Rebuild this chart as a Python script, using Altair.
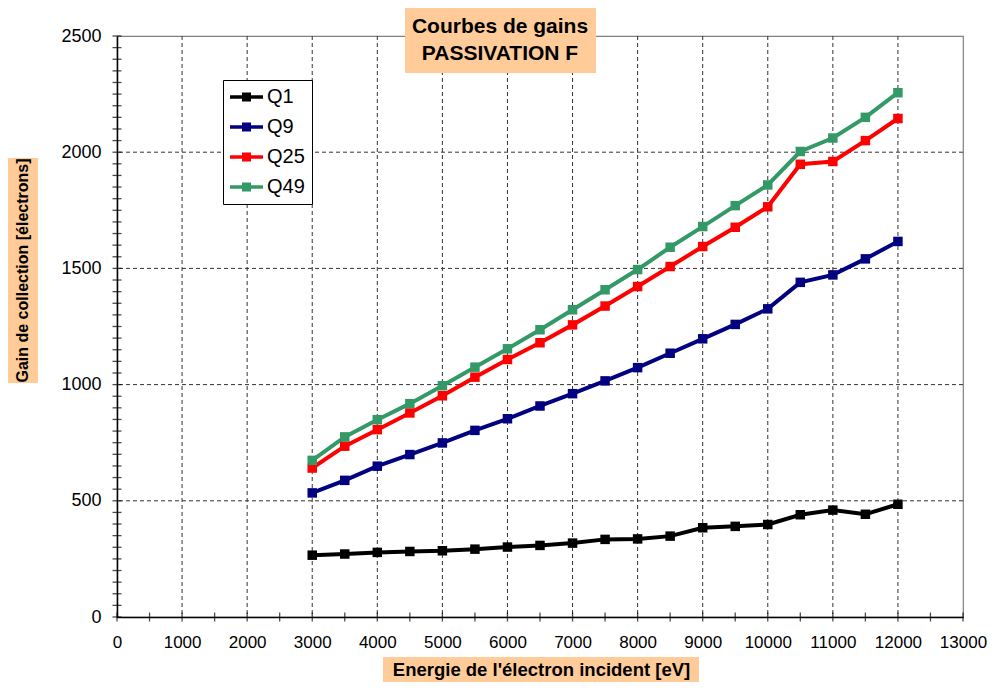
import altair as alt
import pandas as pd

# ---- data ----
ENERGY = [3000, 3500, 4000, 4500, 5000, 5500, 6000, 6500, 7000, 7500,
          8000, 8500, 9000, 9500, 10000, 10500, 11000, 11500, 12000]
Q1 = [266, 271, 278, 282, 285, 292, 301, 308, 318, 334,
      336, 348, 384, 390, 398, 440, 460, 442, 485]
Q9 = [534, 588, 649, 699, 749, 803, 853, 908, 961, 1016,
      1073, 1135, 1197, 1259, 1326, 1440, 1472, 1541, 1616]
Q25 = [641, 735, 806, 878, 952, 1032, 1108, 1180, 1257, 1338,
       1422, 1508, 1594, 1677, 1765, 1948, 1960, 2050, 2145]
Q49 = [674, 775, 849, 918, 995, 1075, 1154, 1236, 1322, 1408,
       1495, 1591, 1680, 1770, 1859, 2003, 2061, 2150, 2256]

SERIES = ["Q1", "Q9", "Q25", "Q49"]
COLORS = ["#000000", "#000080", "#FF0000", "#339966"]

TITLE_LINES = ["Courbes de gains", "PASSIVATION F"]
X_TITLE = "Energie de l'électron incident [eV]"
Y_TITLE = "Gain de collection [électrons]"

X_LABELS = [0, 1000, 2000, 3000, 4000, 5000, 6000, 7000, 8000, 9000,
            10000, 11000, 12000, 13000]
Y_LABELS = [0, 500, 1000, 1500, 2000, 2500]
X_GRID = [1000, 2000, 3000, 4000, 5000, 6000, 7000, 8000, 9000,
          10000, 11000, 12000]
Y_GRID = [500, 1000, 1500, 2000]
X_MINOR = list(range(0, 13001, 500))
Y_MINOR = list(range(0, 2501, 50))

FONT = "Liberation Sans"
BOX = "#FFCC99"

# ---- tables ----
rows = []
for name, col, vals in zip(SERIES, COLORS, [Q1, Q9, Q25, Q49]):
    for e, v in zip(ENERGY, vals):
        rows.append({"energy": e, "gain": v, "series": name, "col": col})
df = pd.DataFrame(rows)

W, H = 846, 581

xscale = alt.Scale(domain=[0, 13000], nice=False, zero=False)
yscale = alt.Scale(domain=[0, 2500], nice=False, zero=False)

x_axis = alt.Axis(values=X_LABELS, format="d", grid=False, ticks=False,
                  domainColor="black", domainWidth=1.5,
                  labelFontSize=17, labelColor="black", labelPadding=17,
                  labelFlush=False, labelOverlap=False, labelFont=FONT,
                  title=X_TITLE, titleFontSize=18.5, titleFontWeight="bold",
                  titleFont=FONT, titleColor="black",
                  titleX=424, titleY=52.5, titleAlign="center",
                  titleBaseline="middle", zindex=1)
y_axis = alt.Axis(values=Y_LABELS, format="d", grid=False, ticks=False,
                  domainColor="black", domainWidth=1.5,
                  labelFontSize=18, labelColor="black", labelPadding=16,
                  labelFont=FONT,
                  title=Y_TITLE, titleFontSize=16, titleFontWeight="bold",
                  titleFont=FONT, titleColor="black",
                  titleX=-95, titleY=234, titleAngle=270, titleAlign="center",
                  titleBaseline="middle", zindex=1)

one = pd.DataFrame({"k": [0]})

# gridlines
xgrid = alt.Chart(pd.DataFrame({"gx": X_GRID})).mark_rule(
    color="#333333", strokeDash=[4, 3], strokeWidth=1
).encode(x=alt.X("gx:Q", scale=xscale))
ygrid = alt.Chart(pd.DataFrame({"gy": Y_GRID})).mark_rule(
    color="#333333", strokeDash=[4, 3], strokeWidth=1
).encode(y=alt.Y("gy:Q", scale=yscale))

# orange boxes behind titles
title_box = alt.Chart(one).mark_rect(color=BOX).encode(
    x=alt.value(288), x2=alt.value(479), y=alt.value(-28), y2=alt.value(37))
ytitle_box = alt.Chart(one).mark_rect(color=BOX).encode(
    x=alt.value(-109), x2=alt.value(-79), y=alt.value(122), y2=alt.value(347))
xtitle_box = alt.Chart(one).mark_rect(color=BOX).encode(
    x=alt.value(266), x2=alt.value(582), y=alt.value(621), y2=alt.value(646))

# lines coloured straight from the colour column (no scale, no legend)
lines = alt.Chart(df).mark_line(strokeWidth=4).encode(
    x=alt.X("energy:Q", scale=xscale, axis=x_axis),
    y=alt.Y("gain:Q", scale=yscale, axis=y_axis),
    color=alt.Color("col:N", scale=None),
    detail="series:N",
)

LEGEND_SYMBOL = ("M-1.65,-0.17L1.65,-0.17L1.65,0.17L-1.65,0.17Z "
                 "M-0.45,-0.45L0.45,-0.45L0.45,0.45L-0.45,0.45Z")

points = alt.Chart(df).mark_point(shape="square", filled=True, size=90,
                                   opacity=1).encode(
    x=alt.X("energy:Q", scale=xscale),
    y=alt.Y("gain:Q", scale=yscale),
    fill=alt.Fill("series:N",
                  scale=alt.Scale(domain=SERIES, range=COLORS),
                  legend=alt.Legend(
        title=None, orient="none", legendX=106, legendY=44,
        fillColor="white", strokeColor="black", padding=7,
        symbolType=LEGEND_SYMBOL, symbolSize=400, symbolStrokeWidth=0,
        symbolOffset=6.5, labelOffset=10.5, labelFontSize=20,
        labelFont=FONT, labelColor="black", rowPadding=10)),
)

# crossing ticks on the axes
yticks = alt.Chart(pd.DataFrame({"ty": Y_MINOR})).mark_tick(
    orient="horizontal", size=9, thickness=1.3, color="black"
).encode(y=alt.Y("ty:Q", scale=yscale),
         x=alt.XDatum(0, scale=xscale))
xticks = alt.Chart(pd.DataFrame({"tx": X_MINOR})).mark_tick(
    orient="vertical", size=9, thickness=1.3, color="black"
).encode(x=alt.X("tx:Q", scale=xscale),
         y=alt.YDatum(0, scale=yscale))

title1 = alt.Chart(pd.DataFrame({"t": [TITLE_LINES[0]]})).mark_text(
    font=FONT, fontSize=21, fontWeight="bold", color="black",
    align="center", baseline="alphabetic"
).encode(text="t:N", x=alt.value(383), y=alt.value(-3))
title2 = alt.Chart(pd.DataFrame({"t": [TITLE_LINES[1]]})).mark_text(
    font=FONT, fontSize=21, fontWeight="bold", color="black",
    align="center", baseline="alphabetic"
).encode(text="t:N", x=alt.value(383), y=alt.value(24))

chart = alt.layer(
    xgrid, ygrid, title_box, ytitle_box, xtitle_box,
    lines, points, yticks, xticks, title1, title2
).properties(
    width=W, height=H,
    autosize=alt.AutoSizeParams(type="none"),
    padding={"left": 109, "top": 28, "right": 25, "bottom": 65},
    background="white",
).configure(font=FONT).configure_view(stroke="#808080", strokeWidth=1.2)

chart.save("out.html", embed_options={"renderer": "svg", "actions": False})
